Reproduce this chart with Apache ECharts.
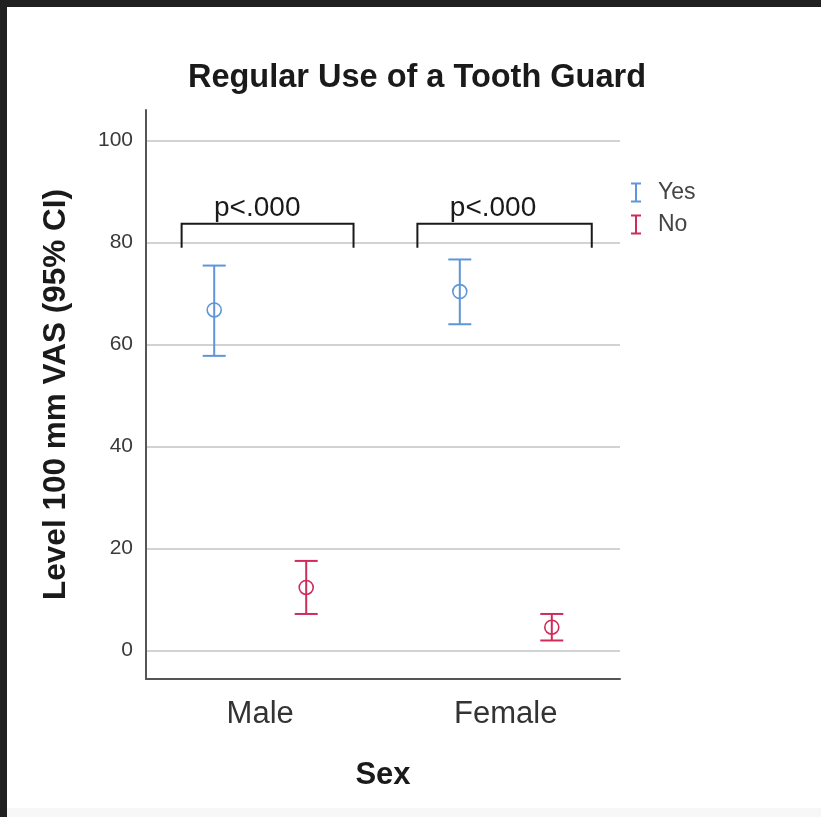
<!DOCTYPE html>
<html>
<head>
<meta charset="utf-8">
<title>Regular Use of a Tooth Guard</title>
<script src="https://cdn.jsdelivr.net/npm/echarts@6/dist/echarts.min.js"></script>
<style>
  html, body { margin: 0; padding: 0; background: #202020; }
  #frame { position: absolute; left: 7px; top: 7px; width: 814px; height: 810px; background: #ffffff; }
  #chart { position: absolute; left: 0; top: 0; width: 814px; height: 810px; }
  #foot { position: absolute; left: 0; top: 801px; width: 814px; height: 9px; background: #f7f7f7; }
</style>
</head>
<body>
<div id="frame"><div id="chart"></div><div id="foot"></div></div>
<script>
// Groups on the x axis (positions 1 and 2)
const categories = ['Male', 'Female'];
const categoryPos = [1, 2];

// Mean VAS level with 95% CI, per group
const yesMean  = [66.8, 70.4];
const yesLower = [57.8, 64.0];
const yesUpper = [75.5, 76.7];

const noMean  = [12.4, 4.6];
const noLower = [7.2, 2.0];
const noUpper = [17.6, 7.2];

// Y axis tick labels
const yTicks = [0, 20, 40, 60, 80, 100];

// Significance brackets above each group
const pLabels = ['p<.000', 'p<.000'];
const bracketFrom = [0.68, 1.64];
const bracketTo = [1.38, 2.35];
const bracketTop = 83.7;
const bracketFoot = 79.0;

const BLUE = '#5f95d9';
const RED = '#cf2c5b';
const AXIS = '#555555';
const FONT = '"Liberation Sans", Arial, Helvetica, sans-serif';
const ERR_ICON = 'path://M0,0H10V2H6V18H10V20H0V18H4V2H0Z';

function buildData(mean, lower, upper) {
  return categoryPos.map((x, i) => [x, mean[i], lower[i], upper[i]]);
}

// Draws an error bar (CI whiskers with caps) and an open circle at the mean
function errorBarRenderer(color, offset) {
  return function (params, api) {
    const x = api.value(0);
    const m = api.coord([x, api.value(1)]);
    const lo = api.coord([x, api.value(2)]);
    const hi = api.coord([x, api.value(3)]);
    const cx = m[0] + offset;
    const cap = 11.5;
    const stroke = { stroke: color, lineWidth: 2, fill: null };
    return {
      type: 'group',
      children: [
        { type: 'line', shape: { x1: cx, y1: hi[1], x2: cx, y2: lo[1] }, style: stroke },
        { type: 'line', shape: { x1: cx - cap, y1: hi[1], x2: cx + cap, y2: hi[1] }, style: stroke },
        { type: 'line', shape: { x1: cx - cap, y1: lo[1], x2: cx + cap, y2: lo[1] }, style: stroke },
        { type: 'circle', shape: { cx: cx, cy: m[1], r: 7 }, style: { stroke: color, lineWidth: 1.6, fill: null } }
      ]
    };
  };
}

// Bracket joining the Yes/No pair of a group, with its p-value above
function bracketRenderer(params, api) {
  const a = api.coord([api.value(0), bracketTop]);
  const b = api.coord([api.value(1), bracketTop]);
  const foot = api.coord([api.value(0), bracketFoot])[1];
  const tx = api.coord([api.value(2), bracketTop])[0];
  const line = { stroke: '#1a1a1a', lineWidth: 2, fill: null };
  return {
    type: 'group',
    children: [
      { type: 'polyline', shape: { points: [[a[0], foot], [a[0], a[1]], [b[0], b[1]], [b[0], foot]] }, style: line },
      { type: 'text', x: tx, y: a[1] - 15,
        style: { text: pLabels[params.dataIndex], fill: '#1a1a1a', font: '28px ' + FONT, align: 'center', verticalAlign: 'middle' } }
    ]
  };
}

const chart = echarts.init(document.getElementById('chart'), null, { renderer: 'canvas' });

chart.setOption({
  backgroundColor: '#ffffff',
  animation: false,
  title: {
    text: 'Regular Use of a Tooth Guard',
    left: 405,
    top: 50,
    textAlign: 'center',
    textStyle: { fontFamily: FONT, fontSize: 32.5, fontWeight: 'bold', color: '#1a1a1a' }
  },
  legend: {
    orient: 'vertical',
    left: 619,
    top: 169,
    itemWidth: 10,
    itemHeight: 20,
    itemGap: 9,
    textStyle: { fontFamily: FONT, fontSize: 23, color: '#444444', padding: [0, 0, 0, 12] },
    data: [
      { name: 'Yes', icon: ERR_ICON },
      { name: 'No', icon: ERR_ICON }
    ]
  },
  grid: { left: 139, top: 103, right: 201, bottom: 138, containLabel: false },
  xAxis: {
    type: 'value',
    min: 0.535,
    max: 2.465,
    name: 'Sex',
    nameLocation: 'middle',
    nameGap: 81,
    nameTextStyle: { fontFamily: FONT, fontSize: 31, fontWeight: 'bold', color: '#1a1a1a' },
    axisLine: { show: true, onZero: false, lineStyle: { color: AXIS, width: 2 } },
    axisTick: { show: false, customValues: categoryPos },
    splitLine: { show: false },
    axisLabel: {
      customValues: categoryPos,
      margin: 20,
      fontFamily: FONT,
      fontSize: 31,
      color: '#333333',
      formatter: v => categories[categoryPos.indexOf(v)] ?? ''
    }
  },
  yAxis: {
    type: 'value',
    min: -5.55,
    max: 106,
    name: 'Level 100 mm VAS (95% CI)',
    nameLocation: 'middle',
    nameGap: 74,
    nameTextStyle: { fontFamily: FONT, fontSize: 31.5, fontWeight: 'bold', color: '#1a1a1a' },
    axisLine: { show: true, onZero: false, lineStyle: { color: AXIS, width: 2 } },
    axisTick: { show: false, customValues: yTicks },
    splitLine: { show: true, lineStyle: { color: '#d2d2d2', width: 2 } },
    axisLabel: {
      customValues: yTicks,
      margin: 13,
      fontFamily: FONT,
      fontSize: 21,
      color: '#3a3a3a'
    }
  },
  series: [
    {
      name: 'Yes',
      type: 'custom',
      itemStyle: { color: BLUE },
      renderItem: errorBarRenderer(BLUE, -46),
      encode: { x: 0, y: [1, 2, 3] },
      data: buildData(yesMean, yesLower, yesUpper)
    },
    {
      name: 'No',
      type: 'custom',
      itemStyle: { color: RED },
      renderItem: errorBarRenderer(RED, 46),
      encode: { x: 0, y: [1, 2, 3] },
      data: buildData(noMean, noLower, noUpper)
    },
    {
      name: 'brackets',
      type: 'custom',
      silent: true,
      renderItem: bracketRenderer,
      encode: { x: [0, 1, 2], y: [] },
      data: categoryPos.map((c, i) => [bracketFrom[i], bracketTo[i], c - 0.012 - 0.04 * i])
    }
  ]
});
</script>
</body>
</html>
